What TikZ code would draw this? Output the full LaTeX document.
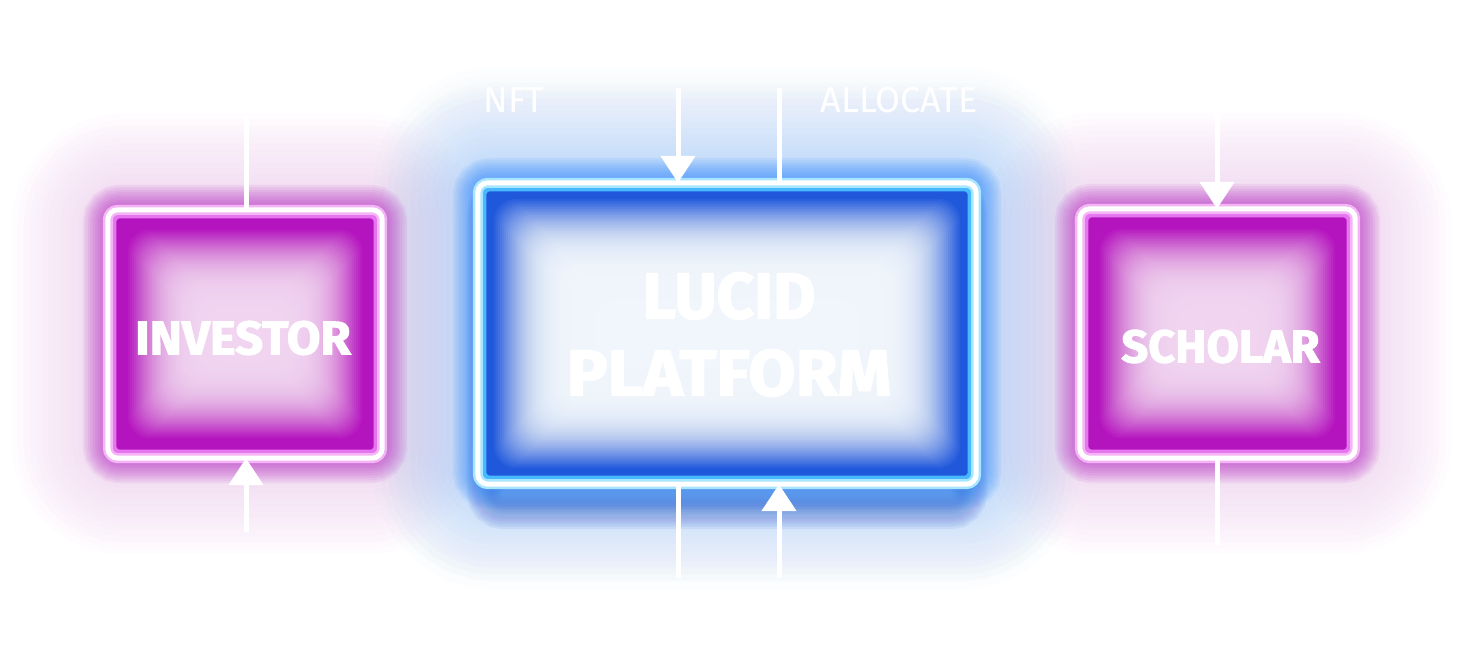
\documentclass[tikz,border=0pt]{standalone}
\usepackage{fontspec}
\setmainfont{Fira Sans}
\newfontfamily\heavyfont{Fira Sans}[BoldFeatures={FakeBold=2.2}]
\usetikzlibrary{arrows.meta,backgrounds}
\definecolor{mag}{HTML}{B414BE}
\definecolor{magglow}{HTML}{B424C2}
\definecolor{magfar}{HTML}{D070D0}
\definecolor{magline}{HTML}{E676F0}
\definecolor{maghalo}{HTML}{F4B4F6}
\definecolor{magcore}{HTML}{F4D8F4}
\definecolor{blu}{HTML}{2058DC}
\definecolor{bluglow}{HTML}{2A84FA}
\definecolor{blufar}{HTML}{70B0FA}
\definecolor{bludark}{HTML}{1E48C8}
\definecolor{bluline}{HTML}{48B8FF}
\definecolor{bluhalo}{HTML}{A8E6FF}
\definecolor{blucore}{HTML}{F4F9FF}
\newcommand\glowbox[9]{%
  % #1 node, #2 glow, #3 far glow, #4 fill, #5 inner line, #6 halo, #7 first inset, #8 max inset, #9 core
  \foreach \k in {1,...,16}{
    \draw[#3, opacity=0.016, line width=\k*12pt, rounded corners=16pt]
      (#1.north west) rectangle (#1.south east);
  }
  \foreach \k in {1,...,10}{
    \draw[#2, opacity=0.085, line width=\k*5pt, rounded corners=12pt]
      (#1.north west) rectangle (#1.south east);
  }
  \fill[#4, rounded corners=10pt] (#1.north west) rectangle (#1.south east);
  \draw[#5, line width=5pt, rounded corners=6pt]
    ([shift={(6,6)}]#1.north west) rectangle ([shift={(-6,-6)}]#1.south east);
  \pgfmathtruncatemacro\secondinset{#7+2}
  \foreach \i in {#7,\secondinset,...,#8}{
    \pgfmathsetmacro\wop{min(0.05+(\i-#7)*0.002,0.3)}
    \fill[#9, opacity=\wop, rounded corners=22pt]
      ([shift={(\i,\i)}]#1.north west) rectangle ([shift={(-\i,-\i)}]#1.south east);
  }
  \draw[#6, line width=10pt, rounded corners=10pt]
    (#1.north west) rectangle (#1.south east);
  \draw[white, line width=5pt, rounded corners=10pt]
    (#1.north west) rectangle (#1.south east);
}
\tikzset{
  boxnode/.style={draw=none, inner sep=0pt},
  boxtext/.style={text=white, inner sep=0pt, align=center},
  wline/.style={white, line width=5pt},
  warrow/.style={white, line width=5pt, -{Triangle[width=34pt,length=27pt]}},
  lbl/.style={text=white, inner sep=0pt, font=\fontsize{36}{40}\selectfont}
}
\begin{document}
\begin{tikzpicture}[x=1pt,y=-1pt]
\useasboundingbox (0,0) rectangle (1463,670);

\node[boxnode, minimum width=274pt, minimum height=248pt] (inv) at (245,334) {};
\node[boxnode, minimum width=498pt, minimum height=301pt] (lucid) at (727,333.5) {};
\node[boxnode, minimum width=275pt, minimum height=249pt] (sch) at (1217.5,333.5) {};

\node[lbl] (nft) at (514,100) {NFT};
\node[lbl] (alloc) at (899,100) {ALLOCATE};

\begin{scope}[on background layer]
  \fill[white] (0,0) rectangle (1463,670);
  % wide light halo and downward dark glow for platform
  \foreach \k in {1,...,14}{
    \draw[blufar, opacity=0.015, line width=\k*15pt, rounded corners=16pt]
      ([shift={(0,-10)}]lucid.north west) rectangle (lucid.south east);
  }
  \foreach \k in {1,...,10}{
    \draw[bludark, opacity=0.07, line width=\k*5pt, rounded corners=12pt]
      ([shift={(14,20)}]lucid.north west) rectangle ([shift={(-14,20)}]lucid.south east);
  }
  \glowbox{inv}{magglow}{magfar}{mag}{magline}{maghalo}{20}{122}{magcore}
  \glowbox{sch}{magglow}{magfar}{mag}{magline}{maghalo}{20}{122}{magcore}
  \glowbox{lucid}{bluglow}{blufar}{blu}{bluline}{bluhalo}{16}{148}{blucore}
\end{scope}

\node[boxtext, font=\heavyfont\bfseries\fontsize{47}{50}\selectfont]
  (invt) at ([shift={(-2,4)}]inv.center) {\scalebox{1.04}[1]{INVESTOR}};
\node[boxtext, font=\heavyfont\bfseries\fontsize{65}{77}\selectfont]
  (lucidt) at ([shift={(2,1)}]lucid.center) {LUCID\\\scalebox{1.05}[1]{PLATFORM}};
\node[boxtext, font=\heavyfont\bfseries\fontsize{46}{50}\selectfont]
  (scht) at ([shift={(3,13)}]sch.center) {\scalebox{1.02}[1]{SCHOLAR}};

\coordinate (invtop) at (246,116);
\coordinate (invbot) at (246,532);
\coordinate (l1top) at (678,88);
\coordinate (l2top) at (779,88);
\coordinate (l1bot) at (678,578);
\coordinate (l2bot) at (779,578);
\coordinate (schtop) at (1217,114);
\coordinate (schbot) at (1217,545);

\draw[wline] (invtop) -- (inv.north -| invtop);
\draw[warrow] (invbot) -- (inv.south -| invbot);
\draw[warrow] (l1top) -- (lucid.north -| l1top);
\draw[wline] (lucid.north -| l2top) -- (l2top);
\draw[wline] (lucid.south -| l1bot) -- (l1bot);
\draw[warrow] (l2bot) -- (lucid.south -| l2bot);
\draw[warrow] (schtop) -- (sch.north -| schtop);
\draw[wline] (sch.south -| schbot) -- (schbot);
\end{tikzpicture}
\end{document}
